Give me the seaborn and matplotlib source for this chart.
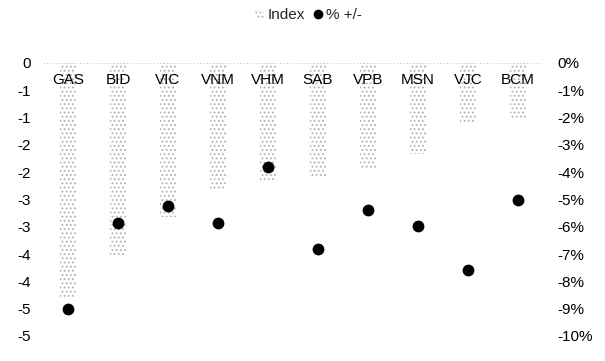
import numpy as np
import pandas as pd
import matplotlib
matplotlib.use("Agg")
import matplotlib.pyplot as plt
import seaborn as sns
from matplotlib.patches import Patch
from matplotlib.lines import Line2D
from matplotlib.ticker import FuncFormatter, MultipleLocator

categories = ["GAS", "BID", "VIC", "VNM", "VHM", "SAB", "VPB", "MSN", "VJC", "BCM"]
index_pts = [-4.28, -3.52, -2.82, -2.33, -2.18, -2.07, -1.92, -1.67, -1.08, -1.01]
pct_change = [-9.0, -5.86, -5.24, -5.86, -3.81, -6.81, -5.38, -5.97, -7.58, -5.02]

sns.set_theme(style="white")
plt.rcParams["font.family"] = ["Liberation Sans", "DejaVu Sans"]
plt.rcParams["hatch.linewidth"] = 0.8

df = pd.DataFrame({"cat": categories, "Index": index_pts, "pct": pct_change})

fig = plt.figure(figsize=(6.05, 3.61), dpi=100)
ax = fig.add_axes([0.0711, 0.0693, 0.8264, 0.7562])

sns.barplot(data=df, x="cat", y="Index", ax=ax, color="white", width=0.31,
            saturation=1)
for p in ax.patches:
    p.set_hatch("....")
    p.set_facecolor("none")
    p.set_edgecolor("#b0b0b0")
    p.set_linewidth(0)

ax.set_axisbelow(False)
ax.axhline(0, color="#c8c8c8", lw=0.8, ls=(0, (1, 2)), zorder=0)
ax.set_ylim(-5, 0)
ax.set_xlim(-0.5, len(categories) - 0.5)
ax.yaxis.set_major_locator(MultipleLocator(0.5))
ax.yaxis.set_major_formatter(FuncFormatter(
    lambda v, _: f"{int(np.sign(v) * np.floor(abs(v) + 0.5))}"))
ax.set_xlabel("")
ax.set_ylabel("")
ax.tick_params(axis="y", length=0, pad=8.5, labelsize=11, labelcolor="black")
ax.tick_params(axis="x", bottom=False, labelbottom=False, top=True,
               labeltop=True, length=0, pad=-17.3, labelsize=11,
               labelcolor="black")
for s in ax.spines.values():
    s.set_visible(False)

ax2 = ax.twinx()
sns.stripplot(data=df, x="cat", y="pct", ax=ax2, jitter=False, color="black",
              size=8.5, linewidth=0)
ax2.set_ylim(-10, 0)
ax2.set_xlim(-0.5, len(categories) - 0.5)
ax2.yaxis.set_major_locator(MultipleLocator(1))
ax2.yaxis.set_major_formatter(FuncFormatter(lambda v, _: f"{v:.0f}%"))
ax2.set_ylabel("")
ax2.set_xlabel("")
ax2.tick_params(axis="y", length=0, pad=10, labelsize=11, labelcolor="black")
ax2.tick_params(axis="x", bottom=False, labelbottom=False, top=False,
                labeltop=False)
for s in ax2.spines.values():
    s.set_visible(False)

handles = [
    Patch(facecolor="none", edgecolor="#b0b0b0", hatch="....", linewidth=0,
          label="Index"),
    Line2D([], [], marker="o", color="black", linestyle="none", markersize=6,
           label="% +/-"),
]
fig.legend(handles=handles, loc="center", bbox_to_anchor=(0.51, 0.958),
           ncol=2, frameon=False, fontsize=11, handlelength=0.6,
           handleheight=0.6, handletextpad=0.2, columnspacing=0.6)

fig.savefig("out.png", dpi=100)
